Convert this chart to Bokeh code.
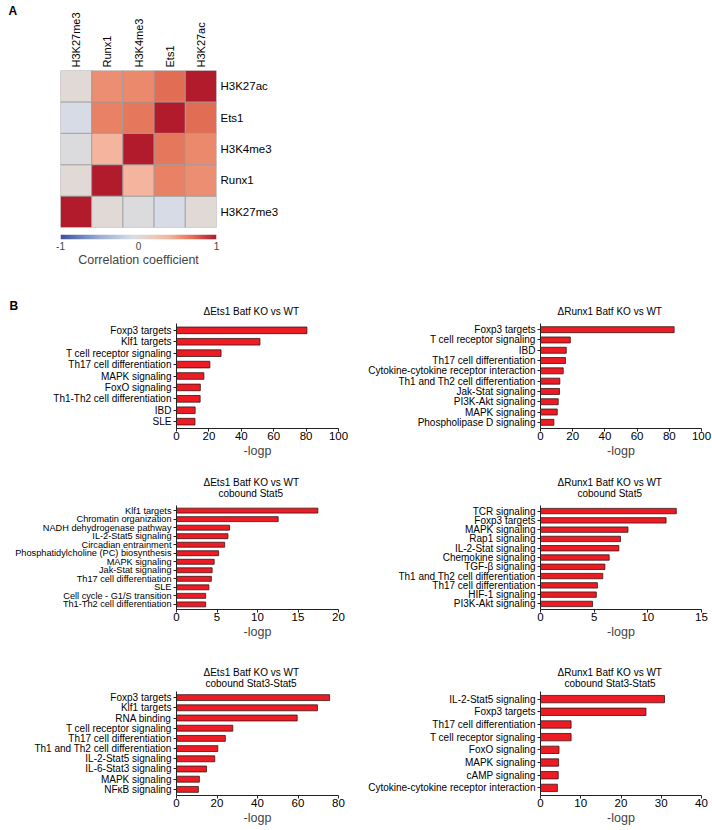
import numpy as np
from bokeh.plotting import figure
from bokeh.models import (FactorRange, Range1d, FixedTicker, LinearColorMapper,
                          Label, ColumnDataSource, Title)
from bokeh.layouts import column, row
from bokeh.embed import file_html
from bokeh.resources import INLINE
from bokeh.transform import transform

FONT = "Liberation Sans"

# ---------------- data ----------------
marks = ["H3K27me3", "Runx1", "H3K4me3", "Ets1", "H3K27ac"]
corr = [
    [1.00, 0.03, -0.03, -0.08, 0.03],   # H3K27me3
    [0.03, 1.00, 0.38, 0.61, 0.56],     # Runx1
    [-0.03, 0.38, 1.00, 0.66, 0.58],    # H3K4me3
    [-0.08, 0.61, 0.66, 1.00, 0.70],    # Ets1
    [0.03, 0.56, 0.58, 0.70, 1.00],     # H3K27ac
]
cb_ticks = [-1, 0, 1]

title1 = ["\u0394Ets1 Batf KO vs WT"]
cats1 = ["Foxp3 targets", "Klf1 targets", "T cell receptor signaling",
         "Th17 cell differentiation", "MAPK signaling", "FoxO signaling",
         "Th1-Th2 cell differentiation", "IBD", "SLE"]
vals1 = [80.5, 51.5, 27.5, 20.6, 16.9, 14.7, 14.6, 11.5, 11.4]
ticks1 = [0, 20, 40, 60, 80, 100]

title2 = ["\u0394Runx1 Batf KO vs WT"]
cats2 = ["Foxp3 targets", "T cell receptor signaling", "IBD",
         "Th17 cell differentiation", "Cytokine-cytokine receptor interaction",
         "Th1 and Th2 cell differentiation", "Jak-Stat signaling",
         "PI3K-Akt signaling", "MAPK signaling", "Phospholipase D signaling"]
vals2 = [83.0, 18.5, 16.0, 15.5, 14.1, 12.0, 11.8, 11.0, 10.4, 8.3]
ticks2 = [0, 20, 40, 60, 80, 100]

title3 = ["\u0394Ets1 Batf KO vs WT", "cobound Stat5"]
cats3 = ["Klf1 targets", "Chromatin organization", "NADH dehydrogenase pathway",
         "IL-2-Stat5 signaling", "Circadian entrainment",
         "Phosphatidylcholine (PC) biosynthesis", "MAPK signaling",
         "Jak-Stat signaling", "Th17 cell differentiation", "SLE",
         "Cell cycle - G1/S transition", "Th1-Th2 cell differentiation"]
vals3 = [17.45, 12.55, 6.55, 6.35, 5.95, 5.2, 4.65, 4.4, 4.3, 4.0, 3.6, 3.6]
ticks3 = [0, 5, 10, 15, 20]

title4 = ["\u0394Runx1 Batf KO vs WT", "cobound Stat5"]
cats4 = ["TCR signaling", "Foxp3 targets", "MAPK signaling", "Rap1 signaling",
         "IL-2-Stat signaling", "Chemokine signaling", "TGF-\u03b2 signaling",
         "Th1 and Th2 cell differentiation", "Th17 cell differentiation",
         "HIF-1 signaling", "PI3K-Akt signaling"]
vals4 = [12.65, 11.7, 8.15, 7.45, 7.3, 6.4, 6.0, 5.8, 5.3, 5.2, 4.85]
ticks4 = [0, 5, 10, 15]

title5 = ["\u0394Ets1 Batf KO vs WT", "cobound Stat3-Stat5"]
cats5 = ["Foxp3 targets", "Klf1 targets", "RNA binding",
         "T cell receptor signaling", "Th17 cell differentiation",
         "Th1 and Th2 cell differentiation", "IL-2-Stat5 signaling",
         "IL-6-Stat3 signaling", "MAPK signaling", "NF\u03baB signaling"]
vals5 = [75.6, 69.6, 59.6, 27.8, 24.1, 20.4, 18.9, 14.8, 11.3, 10.8]
ticks5 = [0, 20, 40, 60, 80]

title6 = ["\u0394Runx1 Batf KO vs WT", "cobound Stat3-Stat5"]
cats6 = ["IL-2-Stat5 signaling", "Foxp3 targets", "Th17 cell differentiation",
         "T cell receptor signaling", "FoxO signaling", "MAPK signaling",
         "cAMP signaling", "Cytokine-cytokine receptor interaction"]
vals6 = [30.8, 26.2, 7.6, 7.6, 4.6, 4.5, 4.4, 4.2]
ticks6 = [0, 10, 20, 30, 40]

# ---------------- colour scale ----------------
anchor_v = [-1.0, -0.5, -0.1, 0.0, 0.2, 0.4, 0.6, 0.7, 0.85, 1.0]
anchor_c = ["#3d50a3", "#9aaed6", "#d4dbe7", "#dedbda", "#efc9b9",
            "#f4b29a", "#ea8568", "#e26e55", "#cc4040", "#b21b2c"]


def _rgb(h):
    h = h.lstrip("#")
    return [int(h[i:i + 2], 16) for i in (0, 2, 4)]


palette = []
for i in range(256):
    v = -1 + 2 * i / 255
    k = 0
    while k < len(anchor_v) - 2 and v > anchor_v[k + 1]:
        k += 1
    t = (v - anchor_v[k]) / (anchor_v[k + 1] - anchor_v[k])
    t = min(max(t, 0), 1)
    a, b = _rgb(anchor_c[k]), _rgb(anchor_c[k + 1])
    c = [round(a[j] + (b[j] - a[j]) * t) for j in range(3)]
    palette.append("#%02x%02x%02x" % tuple(c))

mapper = LinearColorMapper(palette=palette, low=-1, high=1)

# ---------------- panel letters (A, B) ----------------
LET_H = 460
letters = figure(width=20, height=LET_H, x_range=Range1d(0, 1), y_range=Range1d(0, 1),
                 min_border_left=0, min_border_right=0, min_border_top=0,
                 min_border_bottom=0, x_axis_location=None, y_axis_location=None,
                 toolbar_location=None, output_backend="svg")
letters.grid.visible = False
letters.outline_line_color = None
for txt, lx, ltop in (("A", 8, 3), ("B", 9, 298)):
    letters.add_layout(Label(x=lx, y=LET_H - ltop, x_units="screen", y_units="screen",
                             text=txt, text_font=FONT, text_font_style="bold",
                             text_font_size="12px", text_baseline="top",
                             text_align="left", text_color="#000000"))

# ---------------- heatmap ----------------
hx, hy, hv = [], [], []
for i, rname in enumerate(marks):
    for j, cname in enumerate(marks):
        hx.append(cname)
        hy.append(rname)
        hv.append(corr[i][j])
hsrc = ColumnDataSource(dict(x=hx, y=hy, v=hv))

heat = figure(x_range=FactorRange(factors=marks, range_padding=0),
              y_range=FactorRange(factors=marks, range_padding=0),
              width=340, height=234,
              min_border_left=40, min_border_right=144,
              min_border_top=70, min_border_bottom=7,
              x_axis_location="above", y_axis_location="right",
              toolbar_location=None, output_backend="svg")
heat.rect(x="x", y="y", width=1, height=1, source=hsrc,
          fill_color=transform("v", mapper), line_color="#9c9c9c", line_width=0.8)
heat.grid.visible = False
heat.outline_line_color = None
for ax in heat.axis:
    ax.axis_line_color = None
    ax.major_tick_line_color = None
    ax.major_tick_out = 0
    ax.major_tick_in = 0
    ax.minor_tick_line_color = None
    ax.major_label_text_font = FONT
    ax.major_label_text_color = "#000000"
heat.xaxis.major_label_orientation = np.pi / 2
heat.xaxis.major_label_text_font_size = "11px"
heat.xaxis.major_label_standoff = 3
heat.yaxis.major_label_text_font_size = "11.5px"
heat.yaxis.major_label_standoff = 4

# colour bar as a small strip figure
cb = figure(x_range=Range1d(-1, 1), y_range=Range1d(0, 1),
            width=340, height=56,
            min_border_left=40, min_border_right=144,
            min_border_top=0, min_border_bottom=51,
            toolbar_location=None, output_backend="svg")
cb.image(image=[np.linspace(-1, 1, 256).reshape(1, -1)], x=-1, y=0, dw=2, dh=1,
         color_mapper=mapper)
cb.grid.visible = False
cb.outline_line_color = None
cb.yaxis.visible = False
cb.xaxis.ticker = FixedTicker(ticks=cb_ticks)
cb.xaxis.major_label_overrides = {t: str(t) for t in cb_ticks}
cb.xaxis.axis_line_color = None
cb.xaxis.major_tick_line_color = None
cb.xaxis.major_tick_out = 0
cb.xaxis.major_tick_in = 0
cb.xaxis.minor_tick_line_color = None
cb.xaxis.major_label_standoff = 2
cb.xaxis.major_label_text_font = FONT
cb.xaxis.major_label_text_font_size = "10px"
cb.xaxis.axis_label = "Correlation coefficient"
cb.xaxis.axis_label_text_font = FONT
cb.xaxis.axis_label_text_font_size = "12.5px"
cb.xaxis.axis_label_text_font_style = "normal"
cb.xaxis.axis_label_standoff = 0


# ---------------- bar panels ----------------
def bar_panel(titles, offsets, standoffs, cats, vals, ticks, width, height,
              left, right, top, bottom, label_size="10px"):
    yr = FactorRange(factors=list(reversed(cats)), range_padding=0.1,
                     range_padding_units="absolute")
    p = figure(y_range=yr, x_range=Range1d(ticks[0], ticks[-1]),
               width=width, height=height,
               min_border_left=left, min_border_right=right,
               min_border_top=top, min_border_bottom=bottom,
               toolbar_location=None, output_backend="svg")
    p.title.text = ""
    # title lines: the last line sits closest to the frame
    lines = list(zip(titles, offsets, standoffs))
    n = len(lines)
    for k, (txt, off, so) in enumerate(reversed(lines)):
        valign = "top" if (n > 1 and k == 0) else "bottom"
        p.add_layout(Title(text=txt, align="left", offset=off, standoff=so,
                           vertical_align=valign,
                           text_font=FONT, text_font_size="10px",
                           text_font_style="normal", text_color="#000000"),
                     "above")
    src = ColumnDataSource(dict(y=cats, v=vals))
    p.hbar(y="y", left=0, right="v", height=0.58, source=src,
           fill_color="#ed1c24", line_color="#3a1414", line_width=0.8)
    p.grid.visible = False
    p.outline_line_color = None
    for ax in p.axis:
        ax.axis_line_color = "#222222"
        ax.axis_line_width = 1
        ax.major_tick_line_color = "#222222"
        ax.major_tick_out = 3
        ax.major_tick_in = 0
        ax.minor_tick_line_color = None
        ax.major_label_text_font = FONT
        ax.major_label_text_color = "#000000"
    p.yaxis.major_label_text_font_size = label_size
    p.yaxis.major_label_standoff = 2
    p.xaxis.ticker = FixedTicker(ticks=ticks)
    p.xaxis.major_label_text_font_size = "11.5px"
    p.xaxis.major_label_standoff = 0
    p.xaxis.axis_label = "-logp"
    p.xaxis.axis_label_text_font = FONT
    p.xaxis.axis_label_text_font_size = "12.5px"
    p.xaxis.axis_label_text_font_style = "normal"
    p.xaxis.axis_label_standoff = 1
    return p


R2, R3, R4 = 170, 181, 186

p1 = bar_panel(title1, [27], [13], cats1, vals1, ticks1, 340, R2, 156, 22, 33, 30)
p2 = bar_panel(title2, [17], [13], cats2, vals2, ticks2, 352, R2, 180, 11, 33, 30)
p3 = bar_panel(title3, [27, 42], [-9, 9], cats3, vals3, ticks3, 360, R3, 176, 22, 45, 29,
               label_size="9.2px")
p4 = bar_panel(title4, [17, 37], [-9, 9], cats4, vals4, ticks4, 352, R3, 180, 11, 45, 29)
p5 = bar_panel(title5, [27, 29], [-1, 1], cats5, vals5, ticks5, 360, R4, 176, 22, 50, 29)
p6 = bar_panel(title6, [17, 24], [-1, 1], cats6, vals6, ticks6, 352, R4, 180, 11, 50, 29)

layout = column(row(letters, column(heat, cb, row(p1, p2))),
                row(p3, p4),
                row(p5, p6))

open("out.html", "w").write(file_html(layout, INLINE))
